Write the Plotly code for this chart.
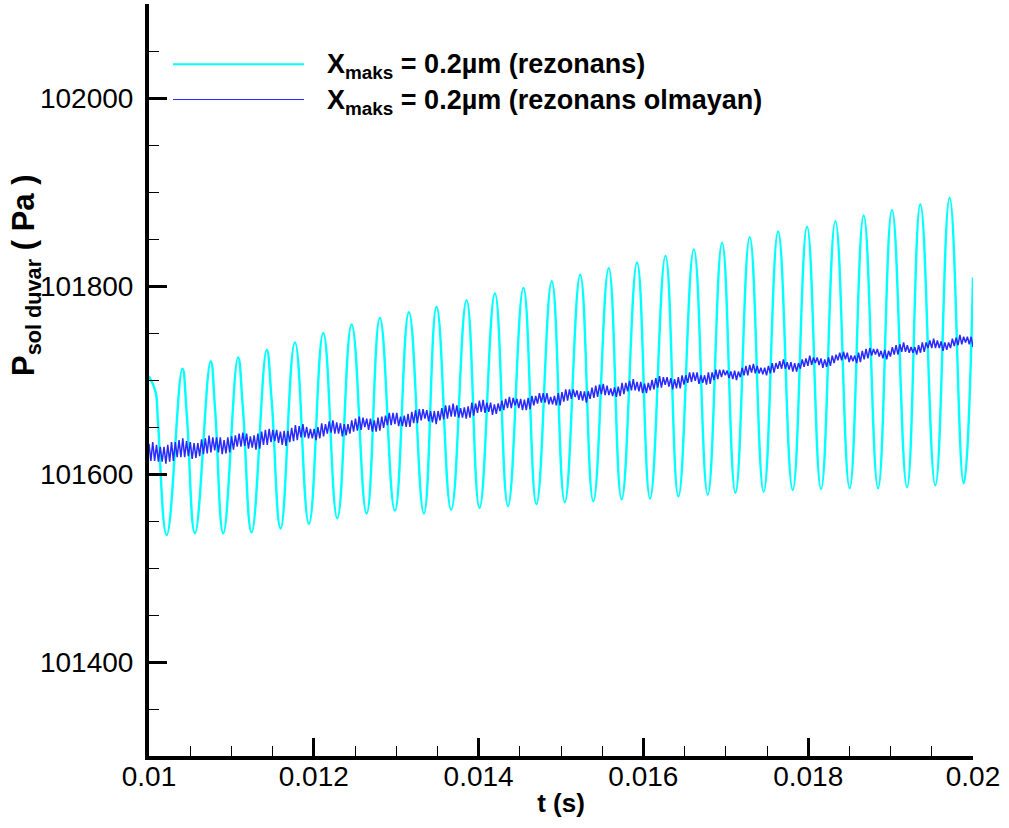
import plotly.graph_objects as go

# ---------------------------------------------------------------------------
# Resonant case: turning points of the left-wall pressure signal (t [s], P [Pa])
# ---------------------------------------------------------------------------
CYAN_T = [
    0.010000, 0.010081, 0.010106, 0.010215,
    0.010405, 0.010459, 0.010558,
    0.010748, 0.010802, 0.010902,
    0.011080, 0.011138, 0.011246,
    0.011428, 0.011488, 0.011598,
    0.011771, 0.011941, 0.012115, 0.012285, 0.012459, 0.012641,
    0.012802, 0.012984, 0.013154, 0.013336, 0.013490, 0.013667,
    0.013854, 0.014011, 0.014198, 0.014357, 0.014544, 0.014702,
    0.014888, 0.015046, 0.015233, 0.015392, 0.015579, 0.015736,
    0.015923, 0.016081, 0.016268, 0.016425, 0.016612, 0.016781,
    0.016955, 0.017117, 0.017290, 0.017460, 0.017635, 0.017812,
    0.017986, 0.018156, 0.018330, 0.018503, 0.018673, 0.018848,
    0.019017, 0.019199, 0.019361, 0.019543, 0.019716, 0.019886,
    0.020000,
]
CYAN_P = [
    101704, 101687, 101660, 101535,
    101712, 101663, 101537,
    101720, 101669, 101537,
    101724, 101672, 101538,
    101732, 101679, 101542,
    101740, 101547, 101750, 101553, 101759, 101558,
    101766, 101561, 101772, 101558, 101778, 101562,
    101785, 101564, 101792, 101566, 101798, 101568,
    101805, 101570, 101812, 101571, 101819, 101573,
    101825, 101574, 101832, 101576, 101839, 101578,
    101846, 101580, 101852, 101581, 101858, 101583,
    101863, 101584, 101869, 101585, 101875, 101585,
    101881, 101586, 101887, 101588, 101894, 101590,
    101809,
]

# ---------------------------------------------------------------------------
# Non-resonant case: sampled every half period, alternating crest / trough
# ---------------------------------------------------------------------------
BLUE_T_START = 0.01
BLUE_T_STEP = 2.278e-5
BLUE_PEAKS = [
    101632, 101634, 101631, 101629, 101629, 101631, 101634, 101634, 101636, 101638,
    101635, 101634, 101633, 101633, 101637, 101638, 101641, 101639, 101639, 101639,
    101636, 101639, 101640, 101641, 101643, 101644, 101643, 101640, 101641, 101643,
    101645, 101647, 101648, 101647, 101647, 101645, 101646, 101646, 101649, 101652,
    101651, 101653, 101650, 101648, 101648, 101650, 101654, 101653, 101656, 101657,
    101655, 101654, 101653, 101653, 101657, 101659, 101661, 101660, 101659, 101659,
    101657, 101660, 101661, 101662, 101665, 101665, 101665, 101661, 101662, 101664,
    101666, 101668, 101669, 101669, 101668, 101667, 101667, 101667, 101670, 101673,
    101673, 101675, 101673, 101670, 101671, 101672, 101676, 101675, 101678, 101679,
    101676, 101676, 101674, 101675, 101678, 101680, 101682, 101681, 101680, 101680,
    101679, 101681, 101683, 101683, 101686, 101686, 101686, 101682, 101683, 101686,
    101687, 101690, 101690, 101690, 101689, 101688, 101688, 101688, 101692, 101694,
    101695, 101696, 101694, 101691, 101692, 101693, 101697, 101697, 101699, 101701,
    101698, 101698, 101696, 101697, 101700, 101702, 101704, 101703, 101703, 101702,
    101701, 101703, 101705, 101705, 101708, 101708, 101708, 101705, 101705, 101708,
    101708, 101711, 101711, 101711, 101710, 101709, 101710, 101709, 101713, 101715,
    101716, 101717, 101715, 101713, 101713, 101715, 101718, 101718, 101720, 101722,
    101719, 101719, 101718, 101718, 101722, 101723, 101726, 101724, 101724, 101723,
    101722, 101724, 101726, 101727, 101729, 101730, 101729, 101726, 101726, 101729,
    101731, 101733, 101734, 101733, 101733, 101731, 101732, 101731, 101735, 101737,
    101738, 101740, 101737, 101735, 101735, 101737, 101740, 101740, 101742, 101744,
    101742, 101741, 101740, 101740, 101744, 101745, 101748, 101746, 101746, 101746,
]
BLUE_TROUGHS = [
    101614, 101614, 101613, 101613, 101611, 101613, 101614, 101618, 101618, 101618,
    101619, 101616, 101617, 101619, 101621, 101622, 101623, 101625, 101623, 101621,
    101622, 101623, 101626, 101629, 101629, 101630, 101627, 101628, 101626, 101627,
    101631, 101631, 101634, 101635, 101633, 101631, 101630, 101634, 101635, 101636,
    101639, 101639, 101638, 101638, 101636, 101638, 101640, 101643, 101644, 101643,
    101643, 101640, 101641, 101643, 101645, 101646, 101647, 101650, 101647, 101645,
    101645, 101646, 101649, 101652, 101652, 101653, 101651, 101651, 101650, 101650,
    101654, 101654, 101657, 101659, 101656, 101655, 101653, 101657, 101658, 101659,
    101661, 101661, 101660, 101660, 101659, 101660, 101662, 101665, 101666, 101665,
    101666, 101663, 101664, 101667, 101668, 101670, 101670, 101673, 101670, 101668,
    101668, 101669, 101673, 101675, 101676, 101676, 101674, 101674, 101673, 101673,
    101677, 101678, 101680, 101682, 101679, 101678, 101676, 101680, 101681, 101682,
    101685, 101684, 101684, 101683, 101682, 101683, 101685, 101688, 101689, 101689,
    101688, 101686, 101686, 101689, 101690, 101692, 101692, 101695, 101693, 101690,
    101691, 101691, 101695, 101697, 101698, 101699, 101696, 101697, 101695, 101696,
    101700, 101701, 101703, 101705, 101702, 101701, 101700, 101703, 101705, 101705,
    101708, 101707, 101707, 101706, 101705, 101707, 101708, 101712, 101712, 101712,
    101711, 101709, 101709, 101712, 101714, 101715, 101716, 101718, 101716, 101713,
    101714, 101715, 101718, 101721, 101721, 101722, 101719, 101720, 101718, 101719,
    101722, 101723, 101726, 101727, 101725, 101723, 101722, 101725, 101727, 101727,
    101730, 101730, 101729, 101729, 101727, 101729, 101730, 101734, 101734, 101734,
    101734, 101731, 101732, 101734, 101736, 101737, 101738, 101740, 101738, 101735,
]

SERIES_NAMES = [
    "X<sub>maks</sub> = 0.2µm (rezonans)",
    "X<sub>maks</sub> = 0.2µm (rezonans olmayan)",
]

X_TICKS = [0.01, 0.012, 0.014, 0.016, 0.018, 0.02]
X_TICK_TEXT = ["0.01", "0.012", "0.014", "0.016", "0.018", "0.02"]
X_MINOR = [0.0105, 0.011, 0.0115, 0.0125, 0.013, 0.0135, 0.0145, 0.015, 0.0155,
           0.0165, 0.017, 0.0175, 0.0185, 0.019, 0.0195]
Y_TICKS = [101400, 101600, 101800, 102000]
Y_TICK_TEXT = ["101400", "101600", "101800", "102000"]
Y_MINOR = [101300, 101350, 101450, 101500, 101550, 101650, 101700, 101750,
           101850, 101900, 101950, 102050, 102100]

FONT = "Liberation Sans, Arial, Helvetica, sans-serif"
CYAN = "#00ffff"
BLUE = "#2a2aff"

# interleave crest/trough samples of the non-resonant signal
blue_p = [v for pair in zip(BLUE_PEAKS, BLUE_TROUGHS) for v in pair]
blue_t = [BLUE_T_START + i * BLUE_T_STEP for i in range(len(blue_p))]

fig = go.Figure()
fig.add_trace(go.Scatter(
    x=CYAN_T, y=CYAN_P, mode="lines", name=SERIES_NAMES[0],
    line=dict(color=CYAN, width=2.4, shape="spline", smoothing=1.3),
    showlegend=False, cliponaxis=True,
))
fig.add_trace(go.Scatter(
    x=blue_t, y=blue_p, mode="lines", name=SERIES_NAMES[1],
    line=dict(color=BLUE, width=1.5),
    showlegend=False, cliponaxis=True,
))

axis_common = dict(
    showline=True, linewidth=4, linecolor="black",
    showgrid=False, zeroline=False, mirror=False,
    ticks="inside", ticklen=18, tickwidth=3, tickcolor="black",
    tickfont=dict(family=FONT, size=28, color="black"),
    automargin=False,
)

fig.update_xaxes(
    range=[0.01, 0.02], tickmode="array", tickvals=X_TICKS, ticktext=X_TICK_TEXT,
    minor=dict(tickmode="array", tickvals=X_MINOR, ticks="inside",
               ticklen=10, tickwidth=1, tickcolor="black"),
    title=dict(text="<b>t (s)</b>", font=dict(family=FONT, size=26, color="black"),
               standoff=4),
    ticklabelstandoff=-8,
    **axis_common,
)
fig.update_yaxes(
    range=[101300, 102100], tickmode="array", tickvals=Y_TICKS, ticktext=Y_TICK_TEXT,
    minor=dict(tickmode="array", tickvals=Y_MINOR, ticks="inside",
               ticklen=10, tickwidth=1, tickcolor="black"),
    ticklabelstandoff=6,
    **axis_common,
)

# plot area in pixels: x 149..973, y 4..756
L, R, T, B = 149, 36, 4, 72
W, H = 1009 - L - R, 828 - T - B


def px(xp):
    return (xp - L) / W


def py(yp):
    return (828 - B - yp) / H


# legend keys and labels
legend_rows = [(64.3, CYAN, 2), (99.5, BLUE, 1)]
for (yy, col, wd), name in zip(legend_rows, SERIES_NAMES):
    fig.add_shape(type="line", xref="paper", yref="paper",
                  x0=px(173), x1=px(304), y0=py(yy), y1=py(yy),
                  line=dict(color=col, width=wd))
    fig.add_annotation(xref="paper", yref="paper", x=px(325), y=py(yy + 2),
                       xanchor="left", yanchor="middle", showarrow=False,
                       text=f"<b>{name}</b>",
                       font=dict(family=FONT, size=27, color="black"))

# vertical axis title
fig.add_annotation(
    xref="paper", yref="paper", x=px(26), y=py(275), textangle=-90,
    xanchor="center", yanchor="middle", showarrow=False,
    text="<b>P<sub>sol duvar</sub> ( Pa )</b>",
    font=dict(family=FONT, size=31, color="black"),
)

fig.update_layout(
    width=1009, height=828,
    margin=dict(l=L, r=R, t=T, b=B, pad=0),
    paper_bgcolor="white", plot_bgcolor="white",
    showlegend=False,
)

fig.write_html("out.html")
